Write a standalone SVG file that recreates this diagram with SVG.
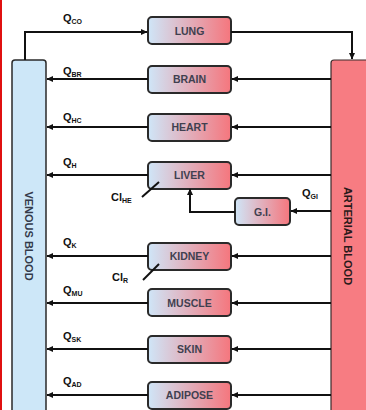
<svg xmlns="http://www.w3.org/2000/svg" width="366" height="410" viewBox="0 0 366 410">
<defs>
<linearGradient id="org" x1="0" y1="0" x2="1" y2="0">
<stop offset="0" stop-color="#cfe6f8"/>
<stop offset="1" stop-color="#f5767d"/>
</linearGradient>
<marker id="ah" markerUnits="userSpaceOnUse" markerWidth="7" markerHeight="7" refX="6" refY="3.5" orient="auto">
<path d="M0,0.5 L6.5,3.5 L0,6.5 z" fill="#111"/>
</marker>
</defs>
<style>
.box{fill:url(#org);stroke:#2a2a2a;stroke-width:2}
.lbl{font-family:"Liberation Sans",Arial,sans-serif;font-weight:bold;font-size:10.5px;fill:#40404f;text-anchor:middle}
.q{font-family:"Liberation Sans",Arial,sans-serif;font-weight:bold;font-size:11px;fill:#111}
.sub{font-size:7px}
.ln{fill:none;stroke:#111;stroke-width:2}
.arr{marker-end:url(#ah)}
.bar{font-family:"Liberation Sans",Arial,sans-serif;font-weight:bold;font-size:11px;text-anchor:middle}
</style>
<rect x="0" y="0" width="366" height="410" fill="#fff"/>
<rect x="0" y="0" width="2" height="410" fill="#e01010"/>

<g id="venous">
<rect x="12" y="60" width="34" height="360" rx="3" fill="#cde7f8" stroke="#2a2a2a" stroke-width="1.5"/>
<text class="bar" fill="#333a4a" transform="translate(29,236) rotate(90)" dy="4">VENOUS BLOOD</text>
</g>
<g id="arterial">
<rect x="331" y="60" width="40" height="360" rx="3" fill="#f77c82" stroke="#3a2a2a" stroke-width="1.2"/>
<text class="bar" fill="#2a1a1a" transform="translate(348,236) rotate(90)" dy="4">ARTERIAL BLOOD</text>
</g>

<g id="lung"><rect class="box" x="148" y="17" width="83" height="27" rx="4"/><text class="lbl" x="189.5" y="34.5">LUNG</text></g>
<g id="brain"><rect class="box" x="148" y="66" width="83" height="27" rx="4"/><text class="lbl" x="189.5" y="83">BRAIN</text></g>
<g id="heart"><rect class="box" x="148" y="114" width="83" height="27" rx="4"/><text class="lbl" x="189.5" y="131">HEART</text></g>
<g id="liver"><rect class="box" x="148" y="162" width="83" height="27" rx="4"/><text class="lbl" x="189.5" y="179">LIVER</text></g>
<g id="gi"><rect class="box" x="235" y="198" width="55" height="27" rx="4"/><text class="lbl" x="262.5" y="215.5">G.I.</text></g>
<g id="kidney"><rect class="box" x="148" y="243" width="83" height="27" rx="4"/><text class="lbl" x="189.5" y="260">KIDNEY</text></g>
<g id="muscle"><rect class="box" x="148" y="289" width="83" height="27" rx="4"/><text class="lbl" x="189.5" y="306.5">MUSCLE</text></g>
<g id="skin"><rect class="box" x="148" y="336" width="83" height="27" rx="4"/><text class="lbl" x="189.5" y="353">SKIN</text></g>
<g id="adipose"><rect class="box" x="148" y="382" width="83" height="27" rx="4"/><text class="lbl" x="189.5" y="399">ADIPOSE</text></g>

<g id="connectors">
<path class="ln arr" d="M25,60 V32 H147"/>
<path class="ln arr" d="M231,32 H352 V59"/>
<path class="ln arr" d="M331,79 H232"/>
<path class="ln arr" d="M148,79 H47"/>
<path class="ln arr" d="M331,127 H232"/>
<path class="ln arr" d="M148,127 H47"/>
<path class="ln arr" d="M331,175 H232"/>
<path class="ln arr" d="M148,175 H47"/>
<path class="ln arr" d="M331,211 H291"/>
<path class="ln arr" d="M235,212 H190 V189"/>
<path class="ln arr" d="M331,256 H232"/>
<path class="ln arr" d="M148,256 H47"/>
<path class="ln arr" d="M331,303 H232"/>
<path class="ln arr" d="M148,303 H47"/>
<path class="ln arr" d="M331,349 H232"/>
<path class="ln arr" d="M148,349 H47"/>
<path class="ln arr" d="M331,395 H232"/>
<path class="ln arr" d="M148,395 H47"/>
<path class="ln" d="M159,182 L142,197" stroke-width="1.8"/>
<path class="ln" d="M159,264 L143,280" stroke-width="1.8"/>
</g>

<g id="labels">
<text class="q" x="63" y="22">Q<tspan class="sub" dy="1.5">CO</tspan></text>
<text class="q" x="63" y="75">Q<tspan class="sub" dy="1.5">BR</tspan></text>
<text class="q" x="63" y="121">Q<tspan class="sub" dy="1.5">HC</tspan></text>
<text class="q" x="63" y="166">Q<tspan class="sub" dy="1.5">H</tspan></text>
<text class="q" x="302" y="197">Q<tspan class="sub" dy="1.5">GI</tspan></text>
<text class="q" x="63" y="246">Q<tspan class="sub" dy="1.5">K</tspan></text>
<text class="q" x="63" y="294">Q<tspan class="sub" dy="1.5">MU</tspan></text>
<text class="q" x="63" y="340">Q<tspan class="sub" dy="1.5">SK</tspan></text>
<text class="q" x="63" y="385">Q<tspan class="sub" dy="1.5">AD</tspan></text>
<text class="q" x="111" y="201">Cl<tspan class="sub" dy="1.5">HE</tspan></text>
<text class="q" x="112" y="281">Cl<tspan class="sub" dy="1.5">R</tspan></text>
</g>
</svg>
